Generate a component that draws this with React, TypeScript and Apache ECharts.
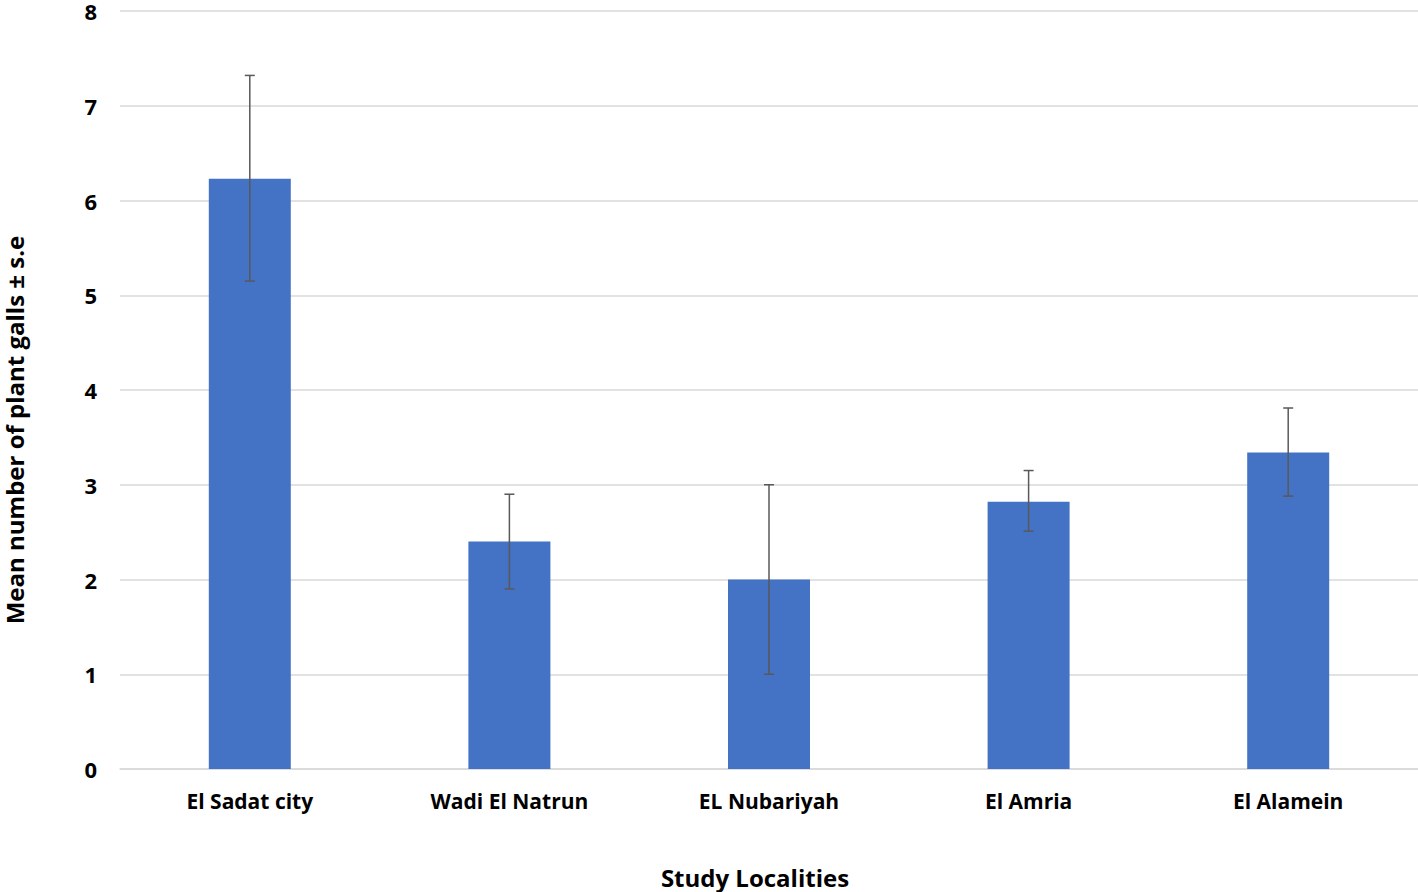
import React, { useEffect, useRef } from "react";
import * as echarts from "echarts";

const categories = ["El Sadat city", "Wadi El Natrun", "EL Nubariyah", "El Amria", "El Alamein"];
const means = [6.23, 2.4, 2.0, 2.82, 3.34];
const errLow = [5.15, 1.9, 1.0, 2.51, 2.88];
const errHigh = [7.32, 2.9, 3.0, 3.15, 3.81];
const yTicks = [0, 1, 2, 3, 4, 5, 6, 7, 8];
const xTitle = "Study Localities";
const yTitle = "Mean number of plant galls ± s.e";

const FONT = "'Open Sans', 'Noto Sans', sans-serif";

export default function App() {
  const ref = useRef<HTMLDivElement>(null);
  useEffect(() => {
    if (!ref.current) return;
    const chart = echarts.init(ref.current, undefined, { renderer: "svg" });
    const errData = categories.map((_, i) => [i, errLow[i], errHigh[i]]);
    chart.setOption({
      animation: false,
      backgroundColor: "#ffffff",
      grid: { left: 120, right: 0, top: 10, bottom: 123, containLabel: false },
      graphic: [
        {
          type: "text",
          x: 14,
          y: 430,
          rotation: Math.PI / 2,
          style: {
            text: yTitle,
            fontFamily: FONT,
            fontWeight: "bold",
            fontSize: 24,
            fill: "#000",
            align: "center",
            verticalAlign: "middle",
          },
        },
        {
          type: "text",
          x: 755,
          y: 877,
          style: {
            text: xTitle,
            fontFamily: FONT,
            fontWeight: "bold",
            fontSize: 24,
            fill: "#000",
            align: "center",
            verticalAlign: "middle",
          },
        },
      ],
      xAxis: {
        type: "category",
        data: categories,
        axisLine: { show: true, lineStyle: { color: "#d9d9d9", width: 1.5 } },
        axisTick: { show: false },
        axisLabel: { fontFamily: FONT, fontWeight: "bold", fontSize: 21, color: "#000", margin: 21 },
      },
      yAxis: {
        type: "value",
        min: yTicks[0],
        max: yTicks[yTicks.length - 1],
        interval: 1,
        axisLine: { show: false },
        axisTick: { show: false },
        axisLabel: { fontFamily: FONT, fontWeight: "bold", fontSize: 22, color: "#000", margin: 23 },
        splitLine: { show: true, lineStyle: { color: "#d9d9d9", width: 1.5 } },
      },
      series: [
        {
          type: "bar",
          data: means,
          barWidth: 82,
          itemStyle: { color: "#4472C4" },
        },
        {
          type: "custom",
          data: errData,
          z: 10,
          renderItem: (params: any, api: any) => {
            const x = api.value(0);
            const lo = api.coord([x, api.value(1)]);
            const hi = api.coord([x, api.value(2)]);
            const hw = 5;
            const style = { stroke: "#595959", lineWidth: 1.5 };
            return {
              type: "group",
              children: [
                { type: "line", shape: { x1: lo[0], y1: lo[1], x2: hi[0], y2: hi[1] }, style },
                { type: "line", shape: { x1: hi[0] - hw, y1: hi[1], x2: hi[0] + hw, y2: hi[1] }, style },
                { type: "line", shape: { x1: lo[0] - hw, y1: lo[1], x2: lo[0] + hw, y2: lo[1] }, style },
              ],
            };
          },
        },
      ],
    });
    return () => chart.dispose();
  }, []);
  return (
    <div
      ref={ref}
      style={{ position: "absolute", left: 0, top: 0, width: 1418, height: 892, background: "#fff" }}
    />
  );
}
